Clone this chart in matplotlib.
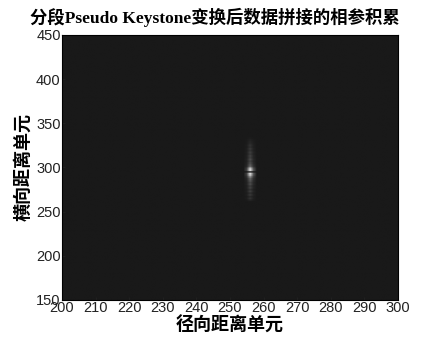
import matplotlib.pyplot as plt
import numpy as np

# axis ranges (range cells / cross-range cells)
range_lim = [200, 300]
azimuth_lim = [150, 450]
xticks = [200, 210, 220, 230, 240, 250, 260, 270, 280, 290, 300]
yticks = [150, 200, 250, 300, 350, 400, 450]

# focused target after coherent integration
target_range = 256
target_azimuth = 298
background = 0.1
# range profile across the target (cells 255..257)
range_profile = [0.2, 1.0, 0.3]
# azimuth profile across the target, cells 262..334, in steps of 2
azimuth_profile = [0.05, 0.12, 0.08, 0.15, 0.1, 0.18, 0.12, 0.2, 0.16, 0.25,
                   0.22, 0.3, 0.35, 0.5, 0.85, 1.0, 0.2, 1.0, 0.9, 0.4,
                   0.3, 0.25, 0.2, 0.25, 0.18, 0.2, 0.15, 0.18, 0.12, 0.15,
                   0.1, 0.12, 0.08, 0.06, 0.04, 0.02]

nr = range_lim[1] - range_lim[0] + 1
na = azimuth_lim[1] - azimuth_lim[0] + 1
img = np.full((na, nr), background)
az = np.repeat(azimuth_profile, 2)
rg = np.array(range_profile)
r0 = target_range - 1 - range_lim[0]
a0 = target_azimuth - len(az) // 2 - azimuth_lim[0]
patch = np.outer(az, rg)
img[a0:a0 + len(az), r0:r0 + len(rg)] = background + 0.8 * patch

fig = plt.figure(figsize=(4.22, 3.42), dpi=100)
ax = fig.add_axes([0.147, 0.123, 0.796, 0.775])
ax.imshow(img, cmap='gray', vmin=0, vmax=1, origin='lower', aspect='auto',
          extent=[range_lim[0] - 0.5, range_lim[1] + 0.5,
                  azimuth_lim[0] - 0.5, azimuth_lim[1] + 0.5],
          interpolation='bilinear')
ax.set_xlim(range_lim)
ax.set_ylim(azimuth_lim)
ax.set_xticks(xticks)
ax.set_yticks(yticks)
ax.tick_params(direction='in', length=2, width=0.6, labelsize=10.5, pad=1,
               colors='#222222')
for lab in ax.get_xticklabels() + ax.get_yticklabels():
    lab.set_family(['Liberation Sans'])
for s in ax.spines.values():
    s.set_linewidth(0.8)

fig.text(0.51, 0.95, '分段Pseudo Keystone变换后数据拼接的相参积累',
         family=['Liberation Serif', 'Noto Sans CJK SC'],
         fontweight='bold', fontsize=12.5, ha='center', va='center')
ax.set_xlabel('径向距离单元', family=['Noto Sans CJK SC'], fontsize=13,
              fontweight='bold', labelpad=0)
ax.set_ylabel('横向距离单元', family=['Noto Sans CJK SC'], fontsize=13,
              fontweight='bold', labelpad=3)

fig.savefig('out.png', dpi=100)
